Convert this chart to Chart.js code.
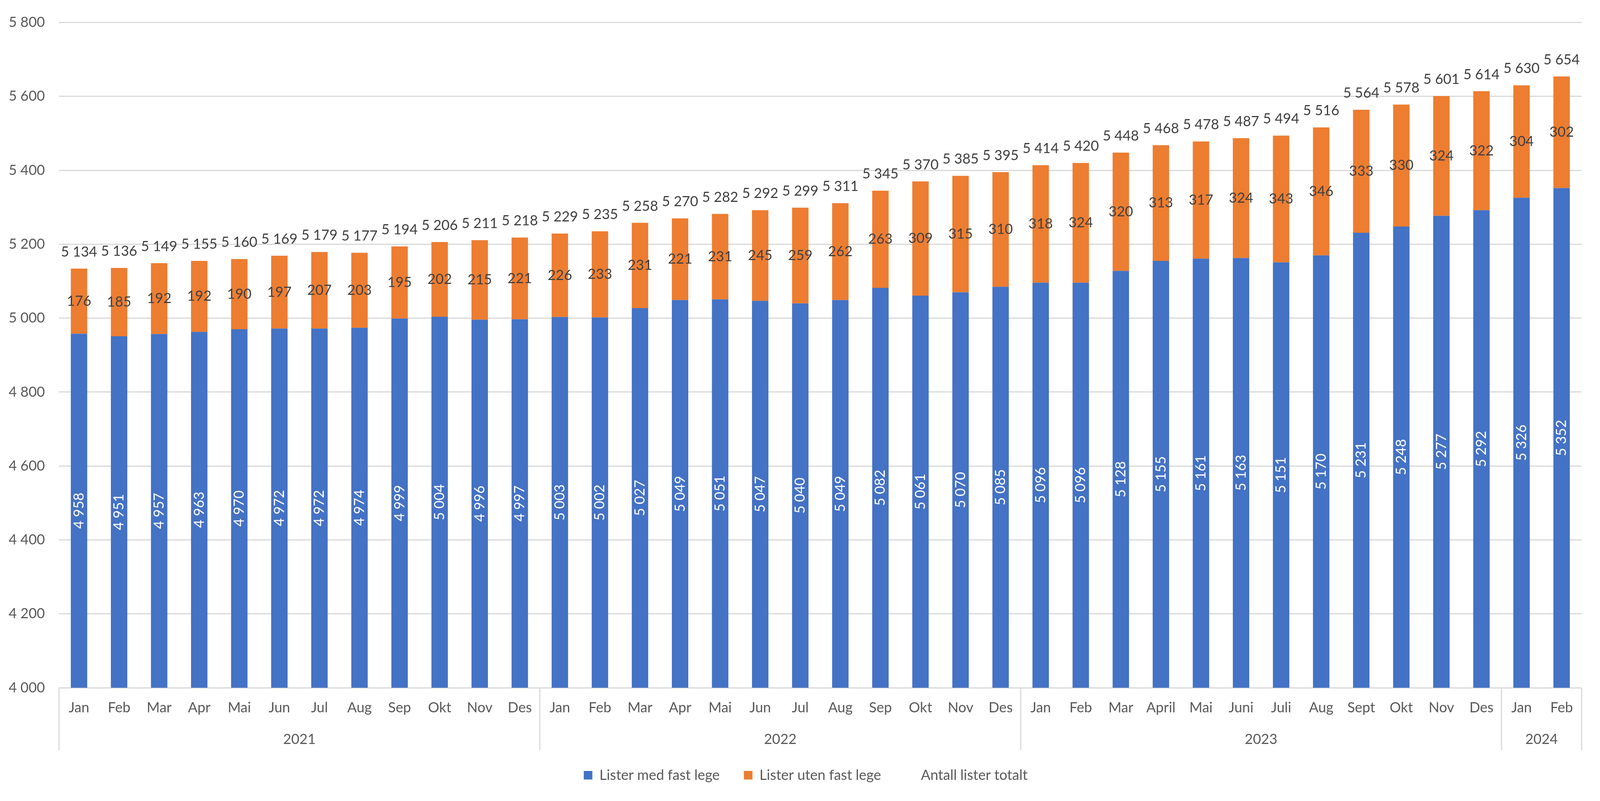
<!DOCTYPE html>
<html>
<head>
<meta charset="utf-8">
<script src="https://cdn.jsdelivr.net/npm/chart.js@4"></script>
<style>
  html, body { margin: 0; padding: 0; background: #fff; overflow: hidden; }
  #wrap { position: relative; width: 100vw; height: 100vh; }
</style>
</head>
<body>
<div id="wrap"><canvas id="chart"></canvas></div>
<script>
const months = [
  'Jan', 'Feb', 'Mar', 'Apr', 'Mai', 'Jun', 'Jul', 'Aug', 'Sep', 'Okt', 'Nov', 'Des',
  'Jan', 'Feb', 'Mar', 'Apr', 'Mai', 'Jun', 'Jul', 'Aug', 'Sep', 'Okt', 'Nov', 'Des',
  'Jan', 'Feb', 'Mar', 'April', 'Mai', 'Juni', 'Juli', 'Aug', 'Sept', 'Okt', 'Nov', 'Des',
  'Jan', 'Feb'
]
const years = ['2021', '2022', '2023', '2024']
const monthsPerYear = [12, 12, 12, 2]

const withDoctor = [
  4958, 4951, 4957, 4963, 4970, 4972, 4972, 4974, 4999, 5004, 4996, 4997,
  5003, 5002, 5027, 5049, 5051, 5047, 5040, 5049, 5082, 5061, 5070, 5085,
  5096, 5096, 5128, 5155, 5161, 5163, 5151, 5170, 5231, 5248, 5277, 5292,
  5326, 5352
]
const withoutDoctor = [
  176, 185, 192, 192, 190, 197, 207, 203, 195, 202, 215, 221,
  226, 233, 231, 221, 231, 245, 259, 262, 263, 309, 315, 310,
  318, 324, 320, 313, 317, 324, 343, 346, 333, 330, 324, 322,
  304, 302
]
const totals = [
  5134, 5136, 5149, 5155, 5160, 5169, 5179, 5177, 5194, 5206, 5211, 5218,
  5229, 5235, 5258, 5270, 5282, 5292, 5299, 5311, 5345, 5370, 5385, 5395,
  5414, 5420, 5448, 5468, 5478, 5487, 5494, 5516, 5564, 5578, 5601, 5614,
  5630, 5654
]

const FONT = 'Lato'
const fmt = v => String(v).replace(/\B(?=(\d{3})+(?!\d))/g, ' ')
// vinduet kan være smalere enn 4352, så vannrette mål skaleres
const sx = window.innerWidth / 4352

// verdier på søylene
const labelPlugin = {
  id: 'barLabels',
  afterDatasetsDraw(chart) {
    const ctx = chart.ctx
    const bottom = chart.chartArea.bottom
    ctx.save()
    ctx.font = `36px ${FONT}`
    ctx.textAlign = 'center'

    chart.getDatasetMeta(0).data.forEach((bar, i) => {
      const base = Math.min(bar.base, bottom)
      ctx.save()
      ctx.translate(bar.x, (bar.y + base) / 2)
      ctx.rotate(-Math.PI / 2)
      ctx.fillStyle = '#ffffff'
      ctx.textBaseline = 'middle'
      ctx.fillText(fmt(withDoctor[i]), 0, 0)
      ctx.restore()
    })

    ctx.fillStyle = '#404040'
    ctx.textBaseline = 'middle'
    chart.getDatasetMeta(1).data.forEach((bar, i) => {
      ctx.fillText(fmt(withoutDoctor[i]), bar.x, (bar.y + bar.base) / 2)
    })

    ctx.textBaseline = 'alphabetic'
    chart.getDatasetMeta(2).data.forEach((pt, i) => {
      ctx.fillText(fmt(totals[i]), pt.x, pt.y - 31)
    })
    ctx.restore()
  }
}

// årstall under månedene
const yearAxisPlugin = {
  id: 'yearAxis',
  afterLayout(chart) {
    // legenden står litt til høyre for midten i originalen
    const d = Math.round(40 * sx)
    chart.legend.left += d
    chart.legend.right += d
  },
  afterDraw(chart) {
    const ctx = chart.ctx
    const x = chart.scales.x
    const area = chart.chartArea
    const step = x.getPixelForValue(1) - x.getPixelForValue(0)
    const top = area.bottom
    const bottom = area.bottom + 160
    ctx.save()
    ctx.strokeStyle = '#d9d9d9'
    ctx.lineWidth = 3
    ctx.font = `36px ${FONT}`
    ctx.fillStyle = '#595959'
    ctx.textAlign = 'center'
    ctx.textBaseline = 'middle'
    let start = 0
    years.forEach((yr, k) => {
      const left = x.getPixelForValue(start) - step / 2
      const right = x.getPixelForValue(start + monthsPerYear[k] - 1) + step / 2
      ctx.beginPath()
      ctx.moveTo(left, top)
      ctx.lineTo(left, bottom)
      if (k === years.length - 1) {
        ctx.moveTo(right, top)
        ctx.lineTo(right, bottom)
      }
      ctx.stroke()
      ctx.fillText(yr, (left + right) / 2, area.bottom + 132)
      start += monthsPerYear[k]
    })
    ctx.restore()
  }
}

new Chart(document.getElementById('chart'), {
  data: {
    labels: months,
    datasets: [{
      type: 'bar',
      label: 'Lister med fast lege',
      data: withDoctor,
      backgroundColor: '#4472C4',
      stack: 'lists',
      barPercentage: 0.41,
      categoryPercentage: 1
    }, {
      type: 'bar',
      label: 'Lister uten fast lege',
      data: withoutDoctor,
      backgroundColor: '#ED7D31',
      stack: 'lists',
      barPercentage: 0.41,
      categoryPercentage: 1
    }, {
      type: 'line',
      label: 'Antall lister totalt',
      data: totals,
      stack: 'total',
      showLine: false,
      pointRadius: 0,
      borderColor: 'rgba(0,0,0,0)',
      backgroundColor: 'rgba(0,0,0,0)'
    }]
  },
  options: {
    responsive: true,
    maintainAspectRatio: false,
    devicePixelRatio: 1,
    animation: false,
    layout: { padding: { top: 49, right: Math.round(50 * sx), bottom: 38, left: 0 } },
    plugins: {
      tooltip: { enabled: false },
      legend: {
        position: 'bottom',
        labels: {
          boxWidth: 22,
          boxHeight: 22,
          padding: 62,
          color: '#595959',
          font: { family: FONT, size: 36 }
        }
      }
    },
    scales: {
      x: {
        stacked: true,
        grid: { display: false, drawTicks: false },
        border: { display: true, color: '#d9d9d9', width: 3 },
        ticks: {
          color: '#595959',
          font: { family: FONT, size: 36 },
          padding: 30,
          maxRotation: 0,
          autoSkip: false
        },
        afterFit: s => { s.height = 144 }
      },
      y: {
        stacked: true,
        min: 4000,
        max: 5800,
        grid: { color: '#d9d9d9', lineWidth: 3, drawTicks: false },
        border: { display: false },
        ticks: {
          stepSize: 200,
          padding: Math.round(38 * sx),
          color: '#595959',
          font: { family: FONT, size: 36 },
          callback: v => fmt(v)
        },
        afterFit: s => { s.width = Math.round(160 * sx) }
      }
    }
  },
  plugins: [labelPlugin, yearAxisPlugin]
})
</script>
</body>
</html>
